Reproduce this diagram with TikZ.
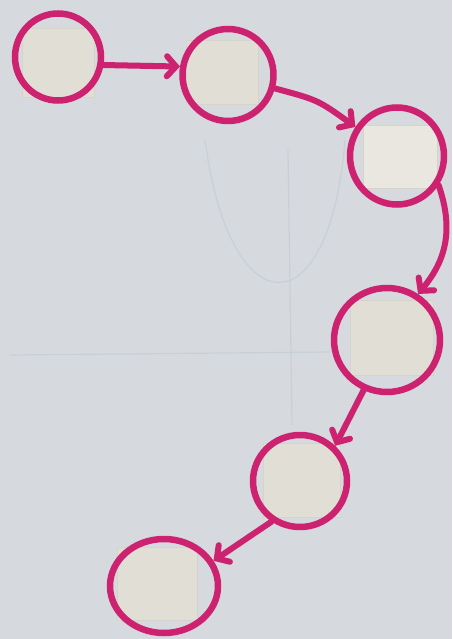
\documentclass[tikz,border=0pt]{standalone}
\usetikzlibrary{shapes.geometric,arrows.meta}
\definecolor{paper}{RGB}{214,217,221}
\definecolor{ink}{RGB}{204,34,112}
\definecolor{tape}{RGB}{225,222,213}
\definecolor{tapebright}{RGB}{233,231,223}
\definecolor{ghost}{RGB}{200,208,215}
\begin{document}
\begin{tikzpicture}[x=1pt,y=-1pt,
  blob/.style={ellipse, draw=ink, line width=6.5pt, inner sep=0pt},
  link/.style={draw=ink, line width=6pt, line cap=round,
    -{Straight Barb[length=9pt,width=20pt,line cap=round]}},
  tapebox/.style={fill=tape, draw=tape!95!black, line width=0.4pt},
  faint/.style={draw=ghost, line width=1.2pt}]
\fill[paper] (0,0) rectangle (452,639);
\useasboundingbox (0,0) rectangle (452,639);
% faint bleed-through lines
\draw[faint] (10,355) -- (330,352);
\draw[faint] (288,150) -- (292,425);
\draw[faint] (205,140) .. controls (230,330) and (330,330) .. (345,140);
% tape squares
\draw[tapebox] (22,28) rectangle (94,97);
\draw[tapebox] (186,40) rectangle (258,104);
\draw[tapebox, fill=tapebright] (363,125) rectangle (437,188);
\draw[tapebox] (350,300) rectangle (433,375);
\draw[tapebox] (263,443) rectangle (340,517);
\draw[tapebox] (117,547) rectangle (197,620);
% circles
\node[blob, minimum width=86pt, minimum height=87pt] (c1) at (58,57) {};
\node[blob, minimum width=91pt, minimum height=92pt] (c2) at (228,75) {};
\node[blob, minimum width=94pt, minimum height=97pt] (c3) at (397,156) {};
\node[blob, minimum width=106pt, minimum height=104pt] (c4) at (387,340) {};
\node[blob, minimum width=94pt, minimum height=92pt] (c5) at (300,481) {};
\node[blob, minimum width=108pt, minimum height=94pt] (c6) at (164,586) {};
% arrows
\draw[link] (c1.-10) -- (c2.170);
\draw[link] (c2.-16) .. controls (318,100) .. (c3.145);
\draw[link] (c3.-35) .. controls (456,235) and (442,265) .. (c4.56);
\draw[link] (c4.-115) -- (c5.45);
\draw[link] (c5.-125) -- (c6.27);
\end{tikzpicture}
\end{document}
